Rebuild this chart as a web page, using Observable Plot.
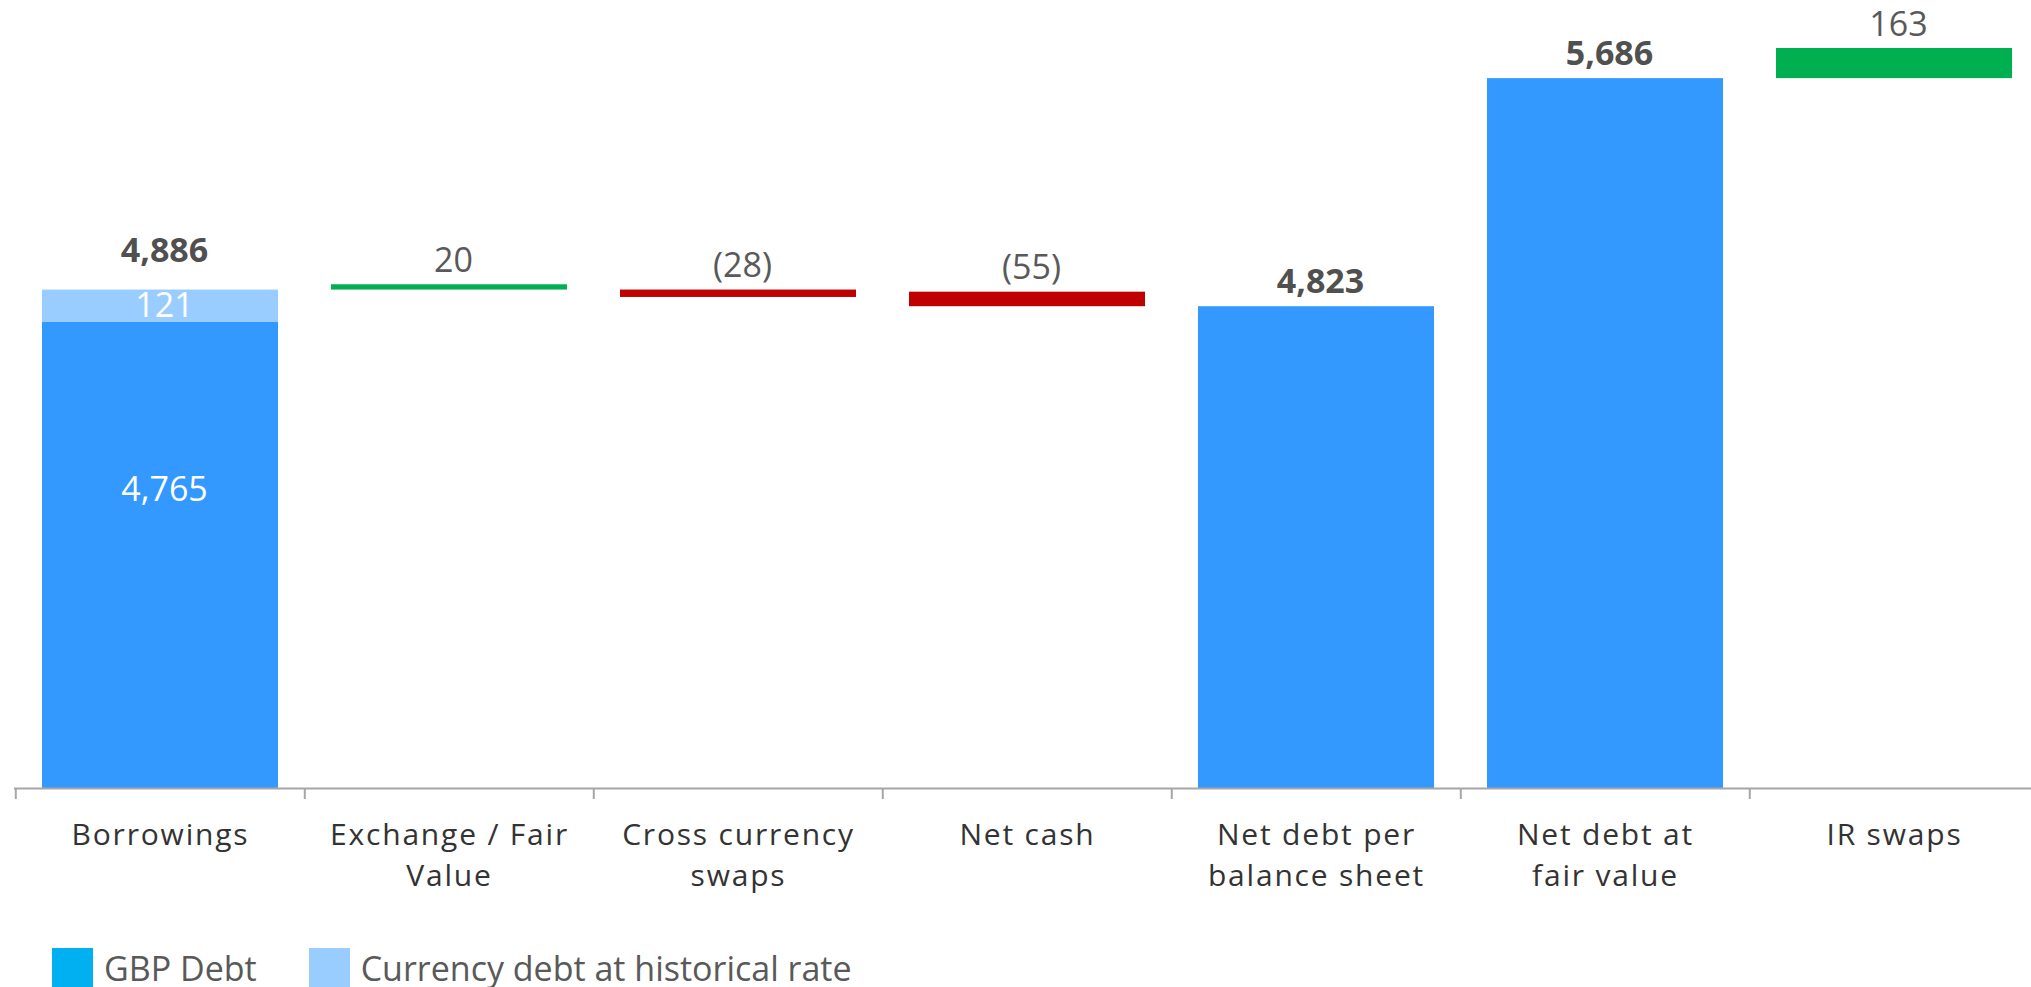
<!DOCTYPE html>
<html><head><meta charset="utf-8">
<script src="https://cdn.jsdelivr.net/npm/d3@7"></script>
<script src="https://cdn.jsdelivr.net/npm/@observablehq/plot@0.6"></script>
<style>
html,body{margin:0;padding:0;background:#fff;overflow:hidden;}
#chart svg{display:block;max-width:none !important;}
#chart [aria-label="x-axis tick label"] text{letter-spacing:1.8px;}
.legend{display:flex;align-items:center;padding-left:52px;margin-top:10px;font-family:"Open Sans",sans-serif;font-size:34px;color:#595959;}
.legend .item{display:flex;align-items:center;margin-right:52px;}
.legend .sw{width:41px;height:41px;margin-right:11px;flex:none;}
</style></head><body>
<div id="chart"></div>
<div class="legend" id="legend"></div>
<script>
const categories = ["Borrowings","Exchange / Fair Value","Cross currency swaps","Net cash","Net debt per balance sheet","Net debt at fair value","IR swaps"];
const tickLabels = ["Borrowings","Exchange / Fair\nValue","Cross currency\nswaps","Net cash","Net debt per\nbalance sheet","Net debt at\nfair value","IR swaps"];
const barKinds = ["stack","increase","decrease","decrease","total","total","increase"];
const barValues = [4886, 20, -28, -55, 4823, 5686, 163];
const barStarts = [0, 4886, 4886, 4878, 0, 0, 5686];
const valueLabels = ["4,886","20","(28)","(55)","4,823","5,686","163"];
const stackSeries = ["GBP Debt","Currency debt at historical rate"];
const stackValues = [4765, 121];
const stackLabels = ["4,765","121"];
const legendColors = ["#00B0F0","#99CCFF"];
const yDomain = [3000, 5800];

const W = 2040, H = 935, mL = 14, mR = 0, mT = 48, mB = 147;
const step = (W - mL - mR) / categories.length;
const unitsPerPx = (yDomain[1] - yDomain[0]) / (H - mT - mB);

const bars = [];
categories.forEach((c, i) => {
  if (barKinds[i] === "stack") {
    let acc = 0;
    stackSeries.forEach((s, j) => { bars.push({cat: c, y1: acc, y2: acc + stackValues[j], kind: s}); acc += stackValues[j]; });
  } else {
    bars.push({cat: c, y1: barStarts[i], y2: barStarts[i] + barValues[i], kind: barKinds[i]});
  }
});

const topLabels = categories.map((c, i) => {
  const top = barKinds[i] === "stack" ? barValues[i] : Math.max(barStarts[i], barStarts[i] + barValues[i]);
  return {cat: c, y: Math.min(top, yDomain[1]), text: valueLabels[i], kind: barKinds[i]};
});

const inside = [];
{
  let acc = 0;
  stackSeries.forEach((s, j) => {
    const lo = Math.max(acc, yDomain[0]), hi = acc + stackValues[j];
    const pos = j === 0 ? lo + (hi - lo) * 0.64 : (lo + hi) / 2;
    inside.push({cat: categories[0], y: pos, text: stackLabels[j]});
    acc += stackValues[j];
  });
}

const chart = Plot.plot({
  width: W, height: H, marginLeft: mL, marginRight: mR, marginTop: mT, marginBottom: mB,
  style: {fontFamily: "'Open Sans', sans-serif", background: "#fff", overflow: "visible"},
  x: {domain: categories, paddingInner: 0.185, paddingOuter: 0.0925},
  y: {domain: yDomain, axis: null},
  color: {domain: [...stackSeries, "increase", "decrease", "total"], range: ["#3399FF", "#99CCFF", "#00B050", "#C00000", "#3399FF"]},
  marks: [
    Plot.barY(bars, {x: "cat", y1: "y1", y2: "y2", fill: "kind", clip: true}),
    Plot.ruleY([yDomain[0]], {stroke: "#A6A6A6", strokeWidth: 2}),
    Plot.ruleX(categories, {x: d => d, dx: -step / 2, y1: yDomain[0], y2: yDomain[0] - 11 * unitsPerPx, stroke: "#A6A6A6", strokeWidth: 2}),
    Plot.axisX({label: null, tickSize: 0, tickPadding: 28, fontSize: 30, lineHeight: 1.35, fill: "#333333",
      tickFormat: d => tickLabels[categories.indexOf(d)]}),
    Plot.text(topLabels.filter(d => d.kind === "stack"), {x: "cat", y: "y", text: "text", dx: 4, dy: -28, lineAnchor: "bottom", fontSize: 34, fontWeight: "bold", fill: "#505050"}),
    Plot.text(topLabels.filter(d => d.kind === "total"), {x: "cat", y: "y", text: "text", dx: 4, dy: -14, lineAnchor: "bottom", fontSize: 34, fontWeight: "bold", fill: "#505050"}),
    Plot.text(topLabels.filter(d => d.kind === "increase" || d.kind === "decrease"), {x: "cat", y: "y", text: "text", dx: 4, dy: -13, lineAnchor: "bottom", fontSize: 34, fill: "#595959"}),
    Plot.text(inside, {x: "cat", y: "y", text: "text", dx: 4, lineAnchor: "middle", fontSize: 34, fill: "#ffffff"})
  ]
});
document.getElementById("chart").append(chart);

const legend = document.getElementById("legend");
stackSeries.forEach((s, j) => {
  const item = document.createElement("div");
  item.className = "item";
  const sw = document.createElement("span");
  sw.className = "sw";
  sw.style.background = legendColors[j];
  const t = document.createElement("span");
  t.textContent = s;
  item.append(sw, t);
  legend.append(item);
});
</script>
</body></html>
